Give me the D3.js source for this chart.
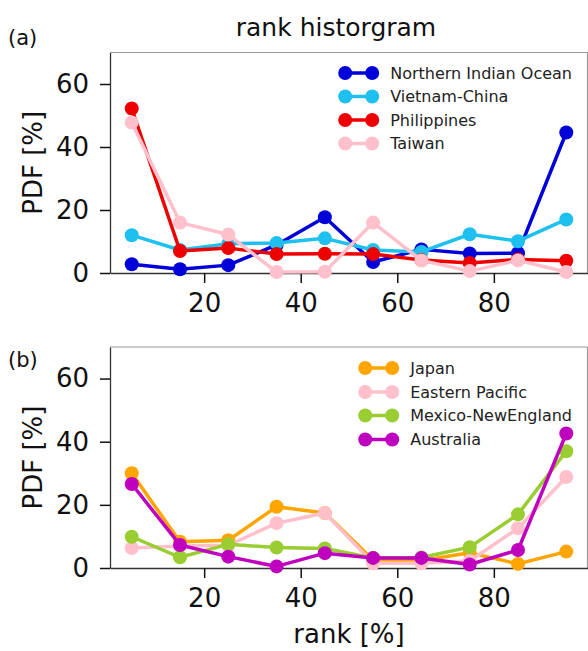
<!DOCTYPE html>
<html><head><meta charset="utf-8">
<script src="https://cdn.jsdelivr.net/npm/d3@7"></script>
<style>body{margin:0;background:#fff}svg{display:block}text{font-family:"DejaVu Sans",sans-serif}</style>
</head><body>
<script>
const ranks = [5,15,25,35,45,55,65,75,85,95];
const xTicks = [20,40,60,80];
const yTicks = [0,20,40,60];

const seriesA = ["Northern Indian Ocean","Vietnam-China","Philippines","Taiwan"];
const colorsA = ["#0000d8","#1ec0f0","#ee0000","#ffc0cb"];
const northernIndianOcean = [2.8,1.2,2.5,8.9,17.7,3.5,7.5,6.2,6.3,44.6];
const vietnamChina = [12,7.3,9.3,9.5,11,7.3,6.7,12.3,10.1,17];
const philippines = [52.2,7,7.9,6,6.1,6,4.1,3.2,4.3,3.9];
const taiwan = [47.8,16,12.2,0.3,0.4,16,4,0.6,4,0.3];

const seriesB = ["Japan","Eastern Pacific","Mexico-NewEngland","Australia"];
const colorsB = ["#ffa500","#ffc0cb","#9acd32","#bf00bf"];
const japan = [30,8.3,8.8,19.4,17.4,2.5,2.4,4.8,1.3,5.2];
const easternPacific = [6.3,7,7.2,14.2,17.4,1.5,1.5,2.2,12.6,28.8];
const mexicoNewEngland = [9.9,3.4,7.5,6.5,6.2,3.2,3.3,6.6,17,37];
const australia = [26.6,7.3,3.6,0.5,4.7,3.2,3.2,1.1,5.7,42.6];

const W = 588, H = 651;
const svg = d3.select("body").append("svg").attr("width", W).attr("height", H);
const x = d3.scaleLinear().domain([0.5, 99.5]).range([110, 588]);

function panel(top, bottom, names, colors, data, label, labelY, legendRows) {
  const y = d3.scaleLinear().domain([0, 70]).range([bottom, top]);
  const g = svg.append("g");
  g.append("line").attr("x1",110).attr("x2",587.5).attr("y1",top).attr("y2",top).attr("stroke","#999").attr("stroke-width",1.2);
  g.append("line").attr("x1",587.5).attr("x2",587.5).attr("y1",top).attr("y2",bottom).attr("stroke","#999").attr("stroke-width",1.2);
  const ya = g.append("g").attr("transform","translate(110,0)")
    .call(d3.axisLeft(y).tickValues(yTicks).tickSize(10).tickPadding(11).tickSizeOuter(0));
  const xa = g.append("g").attr("transform",`translate(0,${bottom})`)
    .call(d3.axisBottom(x).tickValues(xTicks).tickSize(10).tickPadding(11).tickSizeOuter(0));
  [ya, xa].forEach(a => {
    a.selectAll("path").attr("stroke","#333").attr("stroke-width",1.3);
    a.selectAll(".tick line").attr("stroke","#111").attr("stroke-width",1.5);
    a.selectAll("text").attr("font-size",26).attr("fill","#111").attr("font-family","DejaVu Sans");
  });
  g.append("text").attr("transform",`translate(42,${(top+bottom)/2}) rotate(-90)`)
    .attr("text-anchor","middle").attr("font-size",26).attr("fill","#111").text("PDF [%]");
  g.append("text").attr("x",8).attr("y",labelY).attr("font-size",21).attr("fill","#111").text(label);
  const line = d3.line().x((d,i) => x(ranks[i])).y(d => y(d));
  data.forEach((vals, k) => {
    g.append("path").attr("d", line(vals)).attr("fill","none").attr("stroke",colors[k])
      .attr("stroke-width",3.5).attr("stroke-linejoin","round");
    g.selectAll(null).data(vals).enter().append("circle")
      .attr("cx",(d,i) => x(ranks[i])).attr("cy", d => y(d)).attr("r",7).attr("fill",colors[k]);
  });
  const lg = g.append("g");
  const texts = names.map((n,k) => lg.append("text").attr("y",legendRows[k]).attr("dy","0.35em")
    .attr("font-size",16).attr("fill","#222").text(n));
  const maxW = d3.max(texts, t => t.node().getComputedTextLength());
  const tx = 572 - maxW;
  texts.forEach(t => t.attr("x", tx));
  names.forEach((n,k) => {
    const yy = legendRows[k];
    lg.append("line").attr("x1",tx-45).attr("x2",tx-18).attr("y1",yy).attr("y2",yy)
      .attr("stroke",colors[k]).attr("stroke-width",3.5);
    lg.append("circle").attr("cx",tx-45).attr("cy",yy).attr("r",7).attr("fill",colors[k]);
    lg.append("circle").attr("cx",tx-18).attr("cy",yy).attr("r",7).attr("fill",colors[k]);
  });
}

panel(52.5, 273, seriesA, colorsA, [northernIndianOcean, vietnamChina, philippines, taiwan], "(a)", 45, [73,96.5,120,143.5]);
panel(347, 568, seriesB, colorsB, [japan, easternPacific, mexicoNewEngland, australia], "(b)", 367, [368,392,415.5,439.5]);

svg.append("text").attr("x",336).attr("y",36).attr("text-anchor","middle").attr("font-size",25)
  .attr("fill","#111").text("rank historgram");
svg.append("text").attr("x",349).attr("y",643).attr("text-anchor","middle").attr("font-size",26)
  .attr("fill","#111").text("rank [%]");
</script>
</body></html>
